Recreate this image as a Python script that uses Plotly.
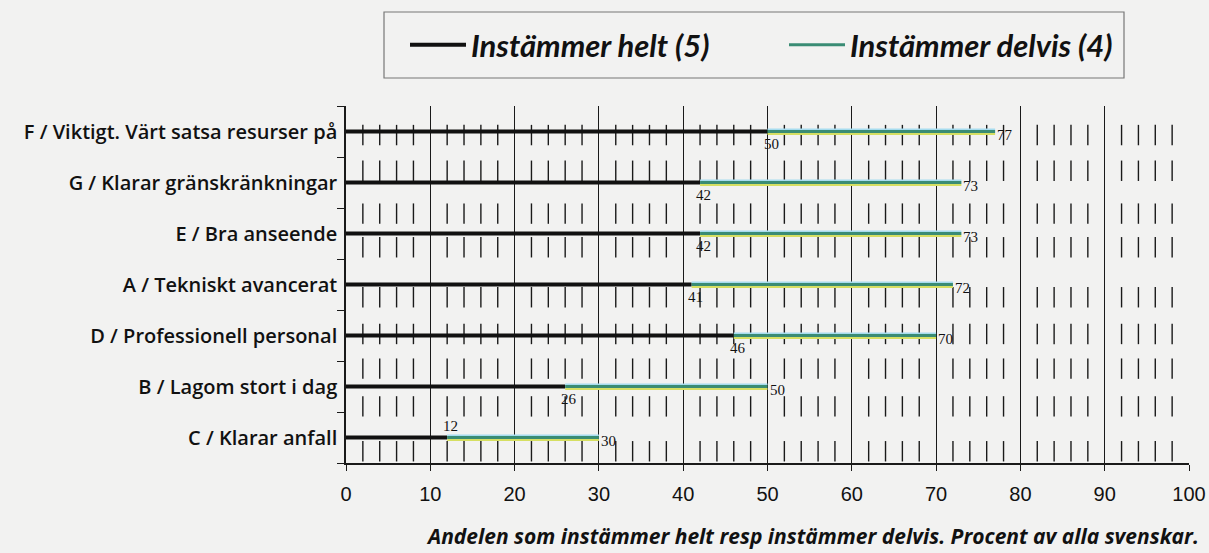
import plotly.graph_objects as go

# ---------------- data ----------------
categories = [
    "F / Viktigt. Värt satsa resurser på",
    "G / Klarar gränskränkningar",
    "E / Bra anseende",
    "A / Tekniskt avancerat",
    "D / Professionell personal",
    "B / Lagom stort i dag",
    "C / Klarar anfall",
]
helt = [50, 42, 42, 41, 46, 26, 12]          # Instämmer helt (5)
helt_delvis = [77, 73, 73, 72, 70, 50, 30]   # cumulative: helt + delvis (4)
x_ticks = [0, 10, 20, 30, 40, 50, 60, 70, 80, 90, 100]

# ---------------- styling ----------------
BG = "#f2f2f1"
BLACK = "#111111"
TEAL = "#3a8c74"
CYAN = "#a6dcef"
YELLOW = "#d6df62"
helt_label_side = ["below", "below", "below", "below", "below", "below", "above"]
# vertical centres (in row units) of the short minor-grid segments drawn in the bands
band_centres = [0.07, 0.77, 1.61, 2.27, 3.25, 3.97, 4.65, 5.39, 6.27]
band_half = 0.2

rows = list(range(len(categories)))
fig = go.Figure()

# minor grid segments every 2 units
mx, my = [], []
for c in band_centres:
    for v in range(2, 100, 2):
        if v % 10 == 0:
            continue
        mx += [v, v, None]
        my += [c - band_half, c + band_half, None]
fig.add_trace(go.Scatter(x=mx, y=my, mode="lines", line=dict(color="#1a1a1a", width=1.4),
                         hoverinfo="skip", showlegend=False))

# black lines: 0 -> helt
for i, (r, h) in enumerate(zip(rows, helt)):
    fig.add_trace(go.Scatter(x=[0, h], y=[r, r], mode="lines",
                             line=dict(color=BLACK, width=4),
                             name="Instämmer helt (5)", legendgroup="helt",
                             showlegend=(i == 0)))

# teal lines with cyan/yellow edges: helt -> helt+delvis
for i, (r, h, t) in enumerate(zip(rows, helt, helt_delvis)):
    fig.add_trace(go.Scatter(x=[h, t], y=[r - 0.045, r - 0.045], mode="lines",
                             line=dict(color=CYAN, width=1.6), hoverinfo="skip",
                             showlegend=False, legendgroup="delvis"))
    fig.add_trace(go.Scatter(x=[h, t], y=[r + 0.05, r + 0.05], mode="lines",
                             line=dict(color=YELLOW, width=2), hoverinfo="skip",
                             showlegend=False, legendgroup="delvis"))
    fig.add_trace(go.Scatter(x=[h, t], y=[r, r], mode="lines",
                             line=dict(color=TEAL, width=3),
                             name="Instämmer delvis (4)", legendgroup="delvis",
                             showlegend=(i == 0)))

# value labels
label_font = dict(family="Liberation Serif, DejaVu Serif, serif", size=15, color="#111")
for r, h, t, side in zip(rows, helt, helt_delvis, helt_label_side):
    fig.add_annotation(x=h, y=r, text=str(h), showarrow=False, font=label_font,
                       xanchor="left", xshift=-6,
                       yanchor="top" if side == "below" else "bottom",
                       yshift=-2 if side == "below" else 2)
    fig.add_annotation(x=t, y=r, text=str(t), showarrow=False, font=label_font,
                       xanchor="left", xshift=0, yanchor="middle", yshift=-3)

# caption
fig.add_annotation(xref="paper", yref="paper", x=(1201 - 346) / 843, y=-(536 - 463) / 357,
                   xanchor="right", yanchor="middle", showarrow=False,
                   text="Andelen som instämmer helt resp instämmer delvis. Procent av alla svenskar.",
                   font=dict(family="Open Sans, Lato, sans-serif", size=21, color="#111",
                             weight="bold", style="italic"))

# legend frame
fig.add_shape(type="rect", xref="paper", yref="paper",
              x0=(384 - 346) / 843, x1=(1124 - 346) / 843,
              y0=1 + (106 - 78) / 357, y1=1 + (106 - 12) / 357,
              line=dict(color="#777", width=1.2), fillcolor="rgba(0,0,0,0)")

fig.update_layout(
    width=1209, height=553,
    paper_bgcolor=BG, plot_bgcolor=BG,
    margin=dict(l=346, r=20, t=106, b=90),
    showlegend=True,
    legend=dict(orientation="h", x=(405 - 346) / 843, xanchor="left",
                y=1 + 61 / 357, yanchor="middle", bgcolor="rgba(0,0,0,0)",
                itemwidth=56,
                entrywidth=308, entrywidthmode="pixels",
                font=dict(family="Lato, Liberation Sans, sans-serif", size=31, color="#111",
                          weight="bold", style="italic")),
    xaxis=dict(range=[0, 100], tickvals=x_ticks, ticktext=[str(v) for v in x_ticks],
               automargin=False,
               showgrid=True, gridcolor="#1a1a1a", gridwidth=1.3,
               zeroline=False, showline=True, linecolor="#1a1a1a", linewidth=1.5,
               ticks="outside", ticklen=6, tickcolor="#1a1a1a", tickwidth=1.3,
               ticklabelstandoff=6,
               tickfont=dict(family="Liberation Sans Narrow, Liberation Sans, sans-serif",
                             size=20, color="#111")),
    yaxis=dict(range=[6.5, -0.5], tickvals=rows, ticktext=categories,
               automargin=False,
               showgrid=False, zeroline=False, showline=True, linecolor="#1a1a1a",
               linewidth=1.5, ticks="", ticklabelstandoff=3,
               minor=dict(tickmode="array", tickvals=[k - 0.5 for k in range(len(categories) + 1)],
                          ticks="outside", ticklen=7, tickcolor="#1a1a1a", tickwidth=1.3),
               tickfont=dict(family="Open Sans, Lato, sans-serif", size=20,
                             color="#111", weight=600)),
)

fig.write_html("out.html", config={"displayModeBar": False},
               post_script="document.body.style.margin='0';")
